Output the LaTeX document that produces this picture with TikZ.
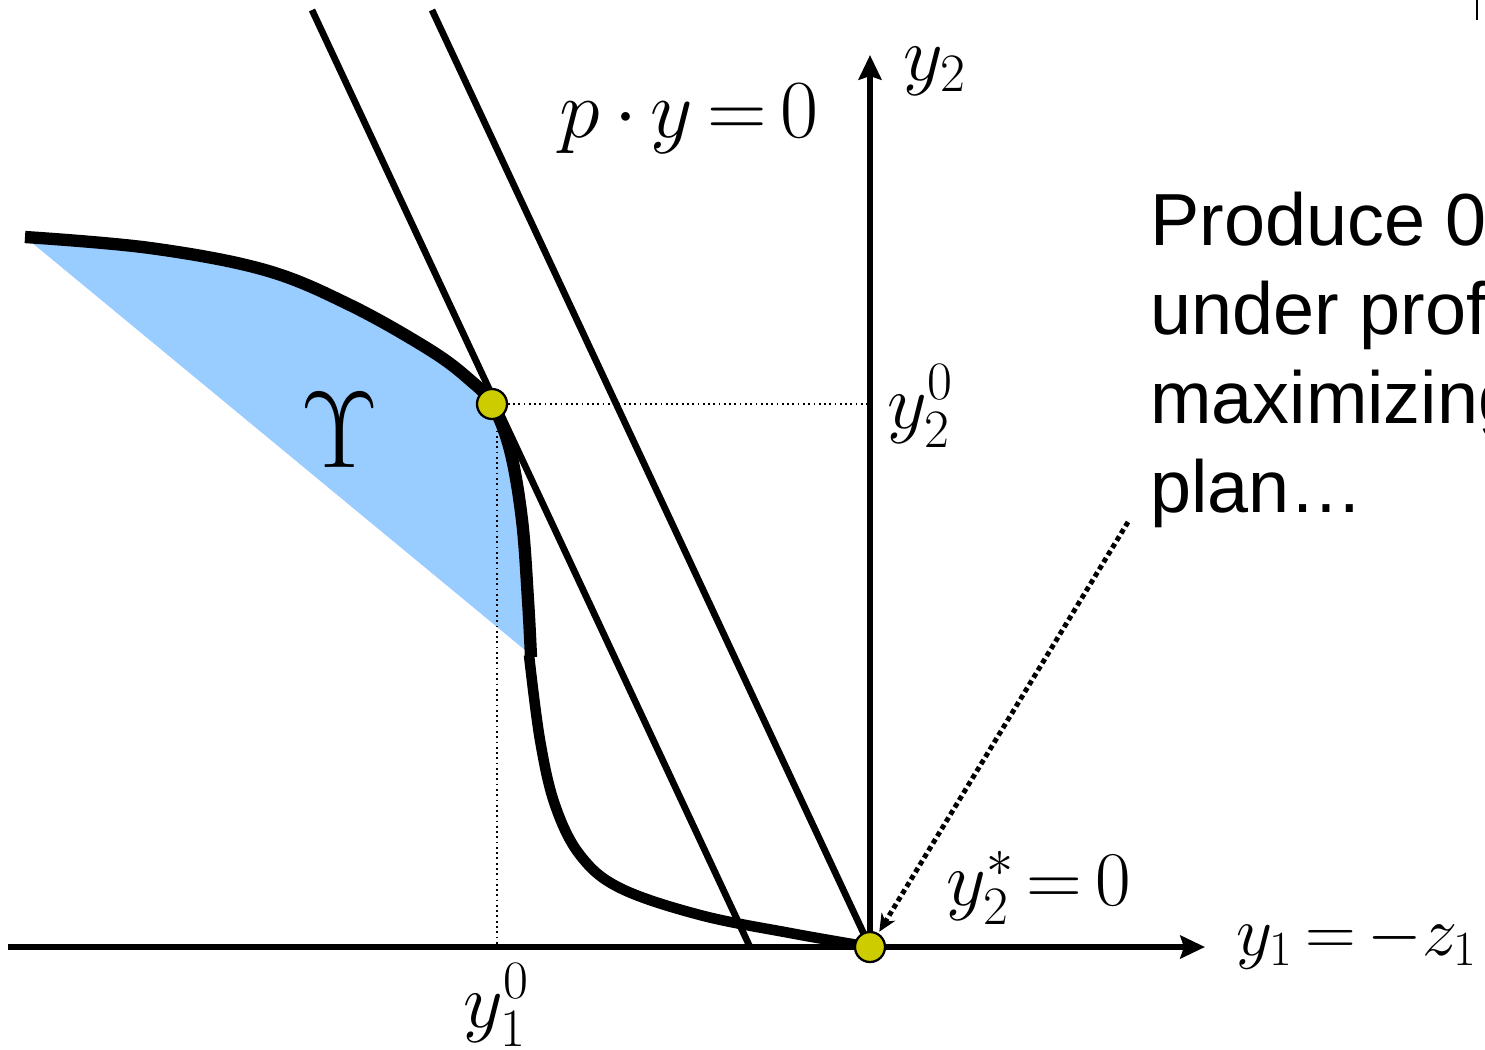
\RequirePackage{fix-cm}
\documentclass[tikz,border=0pt]{standalone}
\usepackage{fontspec}
\usepackage{xcolor}
\usepackage{tikz}
\usetikzlibrary{arrows.meta, positioning, calc}
\newfontfamily\notefont{Liberation Sans}
\definecolor{setblue}{RGB}{153,204,255}
\definecolor{dotyellow}{RGB}{204,204,0}
\thickmuskip=3mu plus 2mu
\medmuskip=3mu plus 2mu
\tikzstyle{axis} = [line width=3.6pt, -{Stealth[length=14pt, width=13pt, inset=2pt]}]
\tikzstyle{isoline} = [line width=3.8pt]
\tikzstyle{frontier} = [line width=7pt]
\tikzstyle{guide} = [dotted, line width=1pt]
\tikzstyle{pointer} = [line width=2.8pt, dash pattern=on 2.8pt off 2pt, -{Stealth[length=10pt, width=9pt]}, shorten >=1pt]
\tikzstyle{plandot} = [circle, draw=black, line width=1.3pt, fill=dotyellow, minimum size=0.6cm, inner sep=0pt]
\tikzstyle{mathlabel} = [inner sep=0pt, font=\fontsize{44}{50}\selectfont]

\begin{document}
\begin{tikzpicture}[x=0.02cm, y=-0.02cm]
    \useasboundingbox (0,0) rectangle (1485,1049);

    % Production set
    \fill[setblue] plot[smooth, tension=0.6] coordinates {(25,237) (150,248) (265,270) (350,305) (430,350) (470,380) (492,404) (510,450) (522,520) (528,600) (531,655)} -- cycle;
    \node[inner sep=0pt, font=\fontsize{62}{66}\selectfont] (upsilon) at (340,430) {$\Upsilon$};

    % Coordinates
    \coordinate (origin) at (870,947);
    \coordinate (tangent) at (492,404);
    \coordinate (xstart) at (8,947);
    \coordinate (xend) at (1205,947);
    \coordinate (yend) at (870,55);
    \coordinate (lowtop) at (312,10);
    \coordinate (lowfoot) at (750,947);
    \coordinate (hightop) at (432,10);
    \coordinate (ytick) at (870,404);
    \coordinate (xtick) at (497,947);
    \coordinate (xdrop) at (497,420);
    \coordinate (notetip) at (1128,522);

    % Guides
    \draw[guide] (tangent) -- (ytick);
    \draw[guide] (xdrop) -- (xtick);

    % Profit lines
    \draw[isoline] (lowtop) -- (lowfoot);
    \draw[isoline] (hightop) -- (origin);

    % Frontier
    \draw[frontier] plot[smooth, tension=0.6] coordinates {(25,237) (150,248) (265,270) (350,305) (430,350) (470,380) (492,404) (510,450) (522,520) (528,600) (531,657)};
    \draw[frontier, line width=6pt] plot[smooth, tension=0.6] coordinates {(529,655) (540,740) (555,805) (580,855) (620,888) (700,915) (790,933) (870,947)};

    % Axes
    \draw[axis] (xstart) -- (xend);
    \draw[axis] (origin) -- (yend);
    \draw[line width=1.2pt] (1477,0) -- (1477,20);

    % Nodes
    \node[plandot] (tangdot) at (tangent) {};
    \node[plandot] (optdot) at (origin) {};
    \node[mathlabel, anchor=base, font=\fontsize{47}{52}\selectfont] (isoprofit) at (689,137) {$p\cdot y=0$};
    \node[mathlabel, anchor=base west] (ytwo) at (903,80) {$y_2$};
    \node[mathlabel, anchor=base west] (ytwozero) at (887,428) {$y_2^0$};
    \node[mathlabel, anchor=base west] (yonezero) at (463,1027) {$y_1^0$};
    \node[mathlabel, anchor=base west] (ytwostar) at (946,905) {$y_2^*=0$};
    \node[mathlabel, anchor=base west, font=\fontsize{40}{46}\selectfont] (yone) at (1236,955) {$y_1=-z_1$};
    \node[anchor=north west, inner sep=0pt, align=left, font=\notefont\fontsize{42}{50.5}\selectfont] (note) at (1150,192) {Produce 0\\under profit\\maximizing\\plan\dots};

    % Arrows
    \draw[pointer] (notetip) -- (optdot);
\end{tikzpicture}
\end{document}
